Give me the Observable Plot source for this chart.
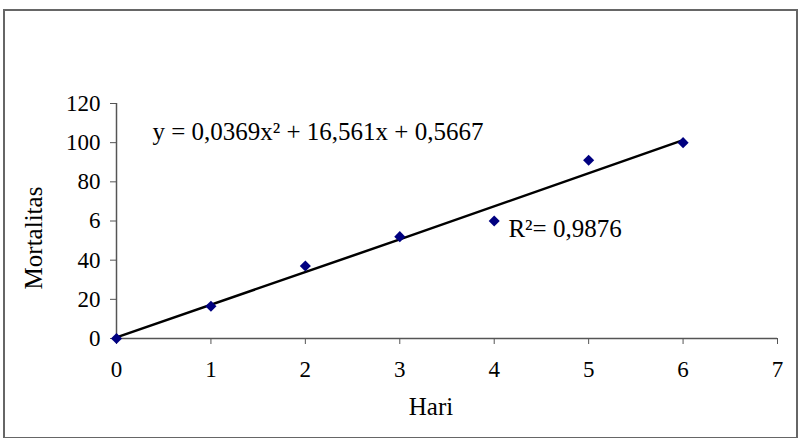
<!DOCTYPE html>
<html>
<head>
<meta charset="utf-8">
<script src="https://cdn.jsdelivr.net/npm/d3@7"></script>
<script src="https://cdn.jsdelivr.net/npm/@observablehq/plot@0.6"></script>
<style>
  html, body { margin: 0; padding: 0; background: #fff; }
  #wrap { position: relative; width: 807px; height: 438px; }
  #border { position: absolute; left: 3px; top: 9px; width: 795px; height: 430px; border: 2px solid #666; box-sizing: border-box; pointer-events: none; }
</style>
</head>
<body>
<div id="wrap"><div id="border"></div></div>
<script>
// Data
const hari = [0, 1, 2, 3, 4, 5, 6];
const mortalitas = [0, 16.5, 37, 52, 60, 91, 100];
// trendline points (as drawn)
const trendX = [0, 3, 6];
const trendY = [0.6, 50.6, 101.3];
const xTicks = [0, 1, 2, 3, 4, 5, 6, 7];
const yTicks = [0, 20, 40, 60, 80, 100, 120];
const yTickLabels = ["0", "20", "40", "6", "80", "100", "120"];
const equation = "y = 0,0369x² + 16,561x + 0,5667";
const r2 = "R²= 0,9876";

const points = hari.map((h, i) => ({x: h, y: mortalitas[i]}));
const trend = trendX.map((t, i) => ({x: t, y: trendY[i]}));

const chart = Plot.plot({
  width: 807,
  height: 438,
  marginLeft: 116,
  marginRight: 30,
  marginTop: 103,
  marginBottom: 100,
  style: {fontFamily: "'Liberation Serif', 'Times New Roman', serif", fontSize: "23px", color: "#000", background: "transparent"},
  x: {domain: [0, 7], ticks: xTicks, label: null},
  y: {domain: [0, 120], ticks: yTicks, label: null},
  marks: [
    Plot.axisX({ticks: xTicks, tickSize: 6, tickPadding: 16, stroke: "#555", label: null, fontSize: 23, tickFormat: d => String(d)}),
    Plot.axisY({ticks: yTicks, tickSize: 6, tickPadding: 10, stroke: "#555", label: null, fontSize: 23,
      tickFormat: d => yTickLabels[yTicks.indexOf(d)]}),
    Plot.ruleY([0], {stroke: "#555", strokeWidth: 1.5}),
    Plot.ruleX([0], {stroke: "#555", strokeWidth: 1.5}),
    Plot.line(trend, {x: "x", y: "y", stroke: "#000", strokeWidth: 2.5}),
    Plot.dot(points, {x: "x", y: "y", symbol: "diamond2", r: 5, fill: "#000080", stroke: "none"}),
    Plot.text([equation], {x: 0.38, y: 105.7, text: d => d, textAnchor: "start", fontSize: 25}),
    Plot.text([r2], {x: 4.15, y: 56, text: d => d, textAnchor: "start", fontSize: 25}),
    Plot.text(["Hari"], {frameAnchor: "bottom", dx: -16, dy: 68, lineAnchor: "middle", textAnchor: "middle", text: d => d, fontSize: 25}),
    Plot.text(["Mortalitas"], {frameAnchor: "left", dx: -83, dy: 17, rotate: -90, textAnchor: "middle", lineAnchor: "middle", text: d => d, fontSize: 25})
  ]
});
document.getElementById("wrap").prepend(chart);
</script>
</body>
</html>
